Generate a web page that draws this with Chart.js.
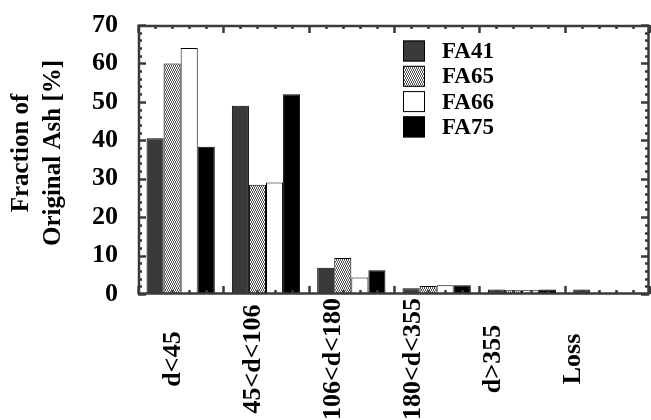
<!DOCTYPE html>
<html>
<head>
<meta charset="utf-8">
<title>Fraction of Original Ash</title>
<script src="https://cdn.jsdelivr.net/npm/chart.js@4.4.0/dist/chart.umd.min.js"></script>
<style>
  html, body { margin: 0; padding: 0; background: #fff; }
</style>
</head>
<body>
<canvas id="mycanvas" width="651" height="420"></canvas>
<script>
var sizeClasses = ['d<45', '45<d<106', '106<d<180', '180<d<355', 'd>355', 'Loss'];
var fa41 = [40.5, 49, 6.8, 1.5, 1.2, 1.2];
var fa65 = [60, 28.4, 9.4, 2.1, 1.0, 0];
var fa66 = [64, 29, 4.3, 2.3, 1.0, 0];
var fa75 = [38.3, 52, 6.2, 2.3, 1.2, 0];
var yTicks = [0, 10, 20, 30, 40, 50, 60, 70];

var serif = '"Liberation Serif", "Times New Roman", serif';

// speckled fill used for FA65
function speckle() {
  var c = document.createElement('canvas');
  c.width = 4; c.height = 4;
  var g = c.getContext('2d');
  g.fillStyle = '#fff';
  g.fillRect(0, 0, 4, 4);
  g.fillStyle = '#555';
  [[0,0],[1,1],[2,0],[3,1],[1,2],[2,3],[3,2],[0,3]].forEach(function(p){
    g.fillRect(p[0], p[1], 1, 1);
  });
  return g.createPattern(c, 'repeat');
}

var frame = {
  id: 'axisframe',
  afterDraw: function(chart) {
    var c = chart.ctx, a = chart.chartArea;
    var xs = chart.scales.x, ys = chart.scales.y;
    c.save();
    c.lineWidth = 2.5;
    c.strokeStyle = '#3a3a3a';

    // box round the plot
    c.beginPath();
    c.rect(a.left + 1, a.top + 1, a.right - a.left - 2.5, a.bottom - a.top - 1.5);

    // inside ticks on left and right
    for (var v = 0; v <= 70; v += 2) {
      var py = Math.round(ys.getPixelForValue(v)) + 0.5;
      var len = (v % 10 === 0) ? 8 : 4;
      c.moveTo(a.left, py); c.lineTo(a.left + len, py);
      c.moveTo(a.right - 1, py); c.lineTo(a.right - 1 - len, py);
    }
    // inside ticks on top and bottom, five per category
    var w = (xs.right - xs.left) / sizeClasses.length;
    for (var k = 0; k <= sizeClasses.length * 5; k++) {
      var px = Math.round(xs.left + k * w / 5) + 0.5;
      var l2 = (k % 5 === 0) ? 8 : 4;
      c.moveTo(px, a.top); c.lineTo(px, a.top + l2);
      c.moveTo(px, a.bottom); c.lineTo(px, a.bottom - l2);
    }
    c.stroke();

    // category labels, written upward
    c.fillStyle = '#000';
    c.font = 'bold 26px ' + serif;
    c.textAlign = 'center';
    c.textBaseline = 'middle';
    var x0 = xs.getPixelForValue(0) - 7;
    var step = xs.getPixelForValue(1) - xs.getPixelForValue(0) - 5.4;
    sizeClasses.forEach(function(lab, i) {
      c.save();
      c.translate(x0 + i * step, 359);
      c.rotate(-Math.PI / 2);
      c.fillText(lab, 0, 0);
      c.restore();
    });

    // axis title
    c.font = 'bold 25px ' + serif;
    c.save();
    c.translate(22, 153);
    c.rotate(-Math.PI / 2);
    c.fillText('Fraction of', 0, 0);
    c.restore();
    c.save();
    c.translate(54, 153);
    c.rotate(-Math.PI / 2);
    c.fillText('Original Ash [%]', 0, 0);
    c.restore();

    // legend
    c.font = 'bold 23px ' + serif;
    c.textAlign = 'left';
    c.lineWidth = 1;
    chart.data.datasets.forEach(function(ds, i) {
      var cy = 51 + i * 25.3;
      c.fillStyle = ds.backgroundColor;
      c.fillRect(403, cy - 10.5, 22, 21);
      c.strokeStyle = '#000';
      c.strokeRect(403.5, cy - 10, 21, 20);
      c.fillStyle = '#000';
      c.fillText(ds.label, 442, cy + 1);
    });
    c.restore();
  }
};

var chartdata = {
  labels: sizeClasses,
  datasets: [
    { label: 'FA41', backgroundColor: '#3a3a3a', data: fa41 },
    { label: 'FA65', backgroundColor: speckle(), data: fa65 },
    { label: 'FA66', backgroundColor: '#ffffff', data: fa66 },
    { label: 'FA75', backgroundColor: '#000000', data: fa75 }
  ]
};
chartdata.datasets.forEach(function(ds) {
  ds.borderColor = '#000';
  ds.borderWidth = 1;
  ds.categoryPercentage = 0.8;
  ds.barPercentage = 1.0;
});

var barGraph = new Chart(document.getElementById('mycanvas'), {
  type: 'bar',
  data: chartdata,
  plugins: [frame],
  options: {
    responsive: false,
    animation: false,
    layout: { padding: { top: 25, right: 1, left: 0, bottom: 0 } },
    plugins: { legend: { display: false }, tooltip: { enabled: false } },
    scales: {
      x: {
        grid: { display: false },
        border: { display: false },
        ticks: { display: false },
        afterFit: function(s) { s.height = 126; }
      },
      y: {
        min: 0, max: 70,
        grid: { display: false },
        border: { display: false },
        afterBuildTicks: function(s) { s.ticks = yTicks.map(function(v){ return { value: v }; }); },
        ticks: {
          color: '#000',
          padding: 12,
          font: { family: serif, size: 26, weight: 'bold' }
        },
        afterFit: function(s) { s.width = 138; s.paddingTop = 0; s.paddingBottom = 0; }
      }
    }
  }
});
</script>
</body>
</html>
